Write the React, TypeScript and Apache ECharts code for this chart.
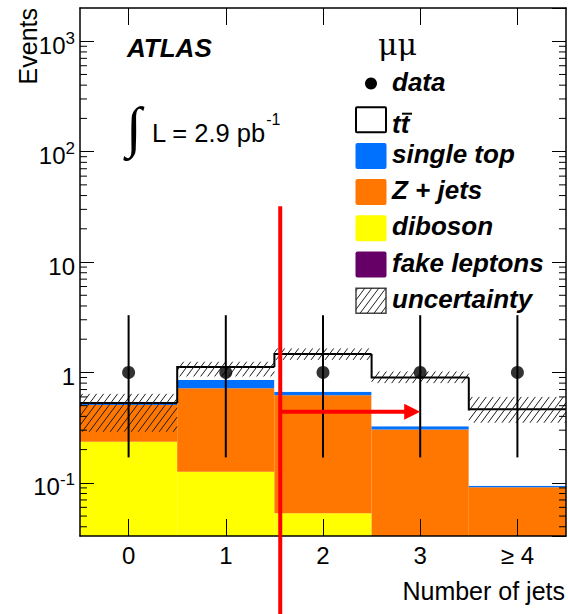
import React, { useEffect, useRef } from 'react';
import * as echarts from 'echarts';

// Jet-multiplicity bins
const jetBins = ['0', '1', '2', '3', '≥ 4'];

// Observed events with Poisson error bars
const dataEvents = [1, 1, 1, 1, 1];
const dataErrDown = [0.83, 0.83, 0.83, 0.83, 0.83];
const dataErrUp = [2.3, 2.3, 2.3, 2.3, 2.3];

// Expected contributions, stacked from the bottom up
const fakeLeptons = [0, 0, 0, 0, 0];
const diboson = [0.236, 0.126, 0.053, 0, 0];
const zJets = [0.271, 0.594, 0.567, 0.305, 0.091];
const singleTop = [0.013, 0.135, 0.05, 0.02, 0.003];
const ttbar = [0.01, 0.265, 0.8, 0.575, 0.37];

// Uncertainty band on the total expectation
const uncDown = [0.29, 0.92, 1.3, 0.8, 0.35];
const uncUp = [0.64, 1.25, 1.65, 1.02, 0.6];

// Selection cut marker (position in bin units, vertical extent, arrow)
const cutPosition = 1.56;
const cutLineSpan = [0.005, 32];
const cutArrowEnd = 3;
const cutArrowLevel = 0.44;

const Y_MIN = 0.033;
const Y_MAX = 2000;

const SANS = "'Liberation Sans', Arial, Helvetica, sans-serif";
const SERIF = "'Liberation Serif', 'Times New Roman', serif";

const COLORS = {
  fake: '#660066',
  diboson: '#ffff00',
  zjets: '#ff7700',
  singleTop: '#0070ff',
  ttbar: '#ffffff',
};

const components = [
  { name: 'fake leptons', values: fakeLeptons, color: COLORS.fake },
  { name: 'diboson', values: diboson, color: COLORS.diboson },
  { name: 'Z + jets', values: zJets, color: COLORS.zjets },
  { name: 'single top', values: singleTop, color: COLORS.singleTop },
  { name: 'ttbar', values: ttbar, color: COLORS.ttbar },
];

const clampV = (v: number) => Math.min(Y_MAX, Math.max(Y_MIN, v));

// Diagonal hatch segments (lines x + r*y = c) clipped to a rectangle
function hatchSegments(x0: number, y0: number, x1: number, y1: number, sp: number, r: number) {
  const out: { x1: number; y1: number; x2: number; y2: number }[] = [];
  const cMin = x0 + r * y0;
  const cMax = x1 + r * y1;
  for (let c = Math.ceil(cMin / sp) * sp; c <= cMax; c += sp) {
    const ya = Math.max(y0, (c - x1) / r);
    const yb = Math.min(y1, (c - x0) / r);
    if (yb - ya > 0.5) out.push({ x1: c - r * ya, y1: ya, x2: c - r * yb, y2: yb });
  }
  return out;
}

const HATCH_SP = 7;
const HATCH_R = 0.75;

function buildOption() {
  // cumulative stack
  let base = jetBins.map(() => 0);
  const stacked = components.map((c) => {
    const lo = base;
    const hi = base.map((b, i) => b + c.values[i]);
    base = hi;
    return { ...c, lo, hi };
  });
  const totals = base;

  const fillSeries = stacked.map((c, k) => ({
    type: 'custom',
    name: c.name,
    z: 2 + k * 0.01,
    data: jetBins.map((_, i) => [i, c.lo[i], c.hi[i]]),
    renderItem: (params: any, api: any) => {
      const i = api.value(0);
      const lo = api.value(1);
      const hi = api.value(2);
      if (!(hi > lo) || hi <= Y_MIN) return { type: 'group', children: [] };
      const bw = api.size([1, 0])[0];
      const top = api.coord([i, clampV(hi)]);
      const yb = api.coord([i, clampV(lo)])[1];
      return {
        type: 'rect',
        shape: { x: top[0] - bw / 2, y: top[1], width: bw, height: yb - top[1] },
        style: { fill: c.color, stroke: null },
      };
    },
  }));

  const outlineSeries = {
    type: 'custom',
    name: 'total',
    z: 3,
    data: jetBins.map((_, i) => [i, totals[i], i > 0 ? totals[i - 1] : totals[i]]),
    renderItem: (params: any, api: any) => {
      const i = api.value(0);
      const bw = api.size([1, 0])[0];
      const p = api.coord([i, clampV(api.value(1))]);
      const yPrev = api.coord([i, clampV(api.value(2))])[1];
      const xl = p[0] - bw / 2;
      const xr = p[0] + bw / 2;
      return {
        type: 'polyline',
        shape: { points: [[xl, yPrev], [xl, p[1]], [xr, p[1]]] },
        style: { stroke: '#000', lineWidth: 2, fill: null },
      };
    },
  };

  const hatchSeries = {
    type: 'custom',
    name: 'uncertainty',
    z: 4,
    data: jetBins.map((_, i) => [i, uncDown[i], uncUp[i]]),
    renderItem: (params: any, api: any) => {
      const i = api.value(0);
      const bw = api.size([1, 0])[0];
      const top = api.coord([i, clampV(api.value(2))]);
      const yb = api.coord([i, clampV(api.value(1))])[1];
      const segs = hatchSegments(top[0] - bw / 2, top[1], top[0] + bw / 2, yb, HATCH_SP, HATCH_R);
      return {
        type: 'group',
        children: segs.map((s) => ({
          type: 'line',
          shape: s,
          style: { stroke: '#1a1a1a', lineWidth: 1 },
        })),
      };
    },
  };

  const errorSeries = {
    type: 'custom',
    name: 'data errors',
    z: 5,
    data: dataEvents.map((v, i) => [i, v - dataErrDown[i], v + dataErrUp[i]]),
    renderItem: (params: any, api: any) => {
      const i = api.value(0);
      const a = api.coord([i, clampV(api.value(1))]);
      const b = api.coord([i, clampV(api.value(2))]);
      return {
        type: 'line',
        shape: { x1: a[0], y1: a[1], x2: b[0], y2: b[1] },
        style: { stroke: '#000', lineWidth: 2 },
      };
    },
  };

  const dataSeries = {
    type: 'scatter',
    name: 'data',
    z: 6,
    symbol: 'circle',
    symbolSize: 13,
    itemStyle: { color: '#000' },
    data: dataEvents.map((v, i) => [i, v]),
  };

  const minorTickValues: number[] = [];
  for (let e = -2; e <= 3; e++) {
    for (let m = 2; m <= 9; m++) {
      const v = m * Math.pow(10, e);
      if (v > Y_MIN && v < Y_MAX) minorTickValues.push(v);
    }
  }
  const minorTickSeries = {
    type: 'custom',
    name: 'minor ticks',
    z: 10,
    silent: true,
    data: minorTickValues.map((v) => [0, v]),
    renderItem: (params: any, api: any) => {
      const y = api.coord([0, api.value(1)])[1];
      const cs = params.coordSys;
      return {
        type: 'group',
        children: [
          { type: 'line', shape: { x1: cs.x, y1: y, x2: cs.x + 7, y2: y }, style: { stroke: '#000', lineWidth: 1 } },
          {
            type: 'line',
            shape: { x1: cs.x + cs.width - 7, y1: y, x2: cs.x + cs.width, y2: y },
            style: { stroke: '#000', lineWidth: 1 },
          },
        ],
      };
    },
  };

  const cutSeries = {
    type: 'custom',
    name: 'cut',
    z: 12,
    clip: false,
    data: [[0, cutLineSpan[0], cutLineSpan[1], cutArrowLevel]],
    renderItem: (params: any, api: any) => {
      const bw = api.size([1, 0])[0];
      const x0 = api.coord([0, 1])[0];
      const xCut = x0 + cutPosition * bw;
      const xTip = x0 + cutArrowEnd * bw;
      const yLow = api.coord([0, api.value(1)])[1];
      const yHigh = api.coord([0, api.value(2)])[1];
      const yArrow = api.coord([0, api.value(3)])[1];
      const head = 16;
      return {
        type: 'group',
        children: [
          { type: 'line', shape: { x1: xCut, y1: yHigh, x2: xCut, y2: yLow }, style: { stroke: '#ff0000', lineWidth: 4 } },
          {
            type: 'line',
            shape: { x1: xCut, y1: yArrow, x2: xTip - head + 1, y2: yArrow },
            style: { stroke: '#ff0000', lineWidth: 4 },
          },
          {
            type: 'polygon',
            shape: { points: [[xTip - head, yArrow - 8], [xTip, yArrow], [xTip - head, yArrow + 8]] },
            style: { fill: '#ff0000' },
          },
        ],
      };
    },
  };

  // Legend
  const legendRows = [
    { label: 'data', kind: 'dot' },
    { label: 'tt', kind: 'ttbar' },
    { label: 'single top', kind: 'box', color: COLORS.singleTop },
    { label: 'Z + jets', kind: 'box', color: COLORS.zjets },
    { label: 'diboson', kind: 'box', color: COLORS.diboson },
    { label: 'fake leptons', kind: 'box', color: COLORS.fake },
    { label: 'uncertainty', kind: 'hatch' },
  ];
  const LX = 356;
  const LTX = 392;
  const LY0 = 83.5;
  const LSTEP = 36.2;
  const legendText = {
    fontSize: 26,
    fontFamily: SANS,
    fontWeight: 'bold',
    fontStyle: 'italic',
    fill: '#000',
    verticalAlign: 'middle',
    align: 'left',
  };
  const legendEls: any[] = [];
  legendRows.forEach((row, k) => {
    const cy = LY0 + k * LSTEP;
    if (row.kind === 'dot') {
      legendEls.push({ type: 'circle', shape: { cx: LX + 15, cy, r: 6 }, style: { fill: '#000' } });
    } else if (row.kind === 'ttbar') {
      legendEls.push({
        type: 'rect',
        shape: { x: LX, y: cy - 12.5, width: 30, height: 25, r: 1 },
        style: { fill: '#fff', stroke: '#000', lineWidth: 2 },
      });
    } else if (row.kind === 'box') {
      legendEls.push({
        type: 'rect',
        shape: { x: LX - 0.5, y: cy - 13, width: 31, height: 26, r: 2 },
        style: { fill: row.color },
      });
    } else {
      legendEls.push({
        type: 'rect',
        shape: { x: LX, y: cy - 12.5, width: 30, height: 25 },
        style: { fill: '#fff', stroke: '#444', lineWidth: 1.5 },
      });
      hatchSegments(LX, cy - 12.5, LX + 30, cy + 12.5, HATCH_SP, HATCH_R).forEach((s) =>
        legendEls.push({ type: 'line', shape: s, style: { stroke: '#222', lineWidth: 1 } })
      );
    }
    const ty = row.kind === 'ttbar' ? cy + 4.5 : cy - 2;
    legendEls.push({ type: 'text', x: LTX, y: ty, style: { ...legendText, text: row.label } });
    if (row.kind === 'ttbar') {
      legendEls.push({
        type: 'line',
        shape: { x1: LTX + 10, y1: cy - 6, x2: LTX + 20, y2: cy - 6 },
        style: { stroke: '#000', lineWidth: 2 },
      });
    }
  });

  const axisLine = { show: true, lineStyle: { color: '#000', width: 1.5 } };

  const yLabelFormatter = (v: number) => {
    const e = Math.log10(v);
    const n = Math.round(e);
    if (Math.abs(e - n) > 1e-6) return '';
    if (n === 0) return '{a|1}';
    if (n === 1) return '{a|10}';
    return '{a|10}{s|' + n + '}';
  };

  return {
    animation: false,
    backgroundColor: '#fff',
    grid: {
      left: 80,
      right: 2,
      top: 8,
      bottom: 78,
      containLabel: false,
      outerBoundsMode: 'none',
    },
    xAxis: [
      {
        type: 'category',
        data: jetBins,
        position: 'bottom',
        boundaryGap: true,
        z: 10,
        axisLine,
        axisTick: { show: true, inside: true, alignWithLabel: true, length: 17, lineStyle: { color: '#000', width: 1 } },
        axisLabel: { color: '#000', fontSize: 24, fontFamily: SANS, margin: 7 },
        splitLine: { show: false },
      },
      {
        type: 'category',
        data: jetBins,
        position: 'top',
        boundaryGap: true,
        z: 10,
        axisLine,
        axisTick: { show: true, inside: true, alignWithLabel: true, length: 17, lineStyle: { color: '#000', width: 1 } },
        axisLabel: { show: false },
        splitLine: { show: false },
      },
    ],
    yAxis: [
      {
        type: 'log',
        logBase: 10,
        min: Y_MIN,
        max: Y_MAX,
        position: 'left',
        z: 10,
        axisLine,
        axisTick: { show: true, inside: true, length: 14, lineStyle: { color: '#000', width: 1 } },
        axisLabel: {
          show: true,
          margin: 5,
          showMinLabel: false,
          showMaxLabel: false,
          formatter: yLabelFormatter,
          rich: {
            a: { fontSize: 24, fontFamily: SANS, color: '#000', padding: [8, 0, 0, 0] },
            s: { fontSize: 17, fontFamily: SANS, color: '#000', padding: [0, 0, 6, 0] },
          },
        },
        splitLine: { show: false },
        minorTick: { show: false },
      },
      {
        type: 'log',
        logBase: 10,
        min: Y_MIN,
        max: Y_MAX,
        position: 'right',
        z: 10,
        axisLine,
        axisTick: { show: true, inside: true, length: 14, lineStyle: { color: '#000', width: 1 } },
        axisLabel: { show: false },
        splitLine: { show: false },
      },
    ],
    graphic: [
      {
        type: 'text',
        x: 27.5,
        y: 8,
        rotation: Math.PI / 2,
        style: { text: 'Events', fontSize: 25, fontFamily: SANS, fill: '#000', align: 'right', verticalAlign: 'middle' },
      },
      {
        type: 'text',
        x: 127,
        y: 48,
        style: {
          text: 'ATLAS',
          fontSize: 26,
          fontFamily: SANS,
          fontWeight: 'bold',
          fontStyle: 'italic',
          fill: '#000',
          verticalAlign: 'middle',
        },
      },
      {
        type: 'text',
        x: 126,
        y: 127,
        style: { text: '∫', fontSize: 56, fontFamily: SERIF, fill: '#000', verticalAlign: 'middle' },
      },
      {
        type: 'text',
        x: 152,
        y: 133,
        style: {
          text: '{m|L = 2.9 pb}{s|-1}',
          verticalAlign: 'middle',
          rich: {
            m: { fontSize: 25.5, fontFamily: SANS, color: '#000' },
            s: { fontSize: 16, fontFamily: SANS, color: '#000', padding: [0, 0, 28, 0] },
          },
        },
      },
      {
        type: 'text',
        x: 378,
        y: 44,
        style: { text: 'μμ', fontSize: 30, fontFamily: "'DejaVu Serif', serif", fill: '#000', verticalAlign: 'middle' },
      },
      {
        type: 'text',
        x: 565,
        y: 591,
        style: { text: 'Number of jets', fontSize: 25, fontFamily: SANS, fill: '#000', align: 'right', verticalAlign: 'middle' },
      },
      ...legendEls,
    ],
    series: [...fillSeries, outlineSeries, hatchSeries, errorSeries, dataSeries, minorTickSeries, cutSeries],
  };
}

export default function App() {
  const ref = useRef<HTMLDivElement>(null);
  useEffect(() => {
    if (!ref.current) return;
    const chart = echarts.init(ref.current, undefined, { renderer: 'svg' });
    chart.setOption(buildOption() as any);
    return () => chart.dispose();
  }, []);
  return (
    <div
      ref={ref}
      style={{ position: 'absolute', left: 0, top: 0, width: 568, height: 614, background: '#fff' }}
    />
  );
}
